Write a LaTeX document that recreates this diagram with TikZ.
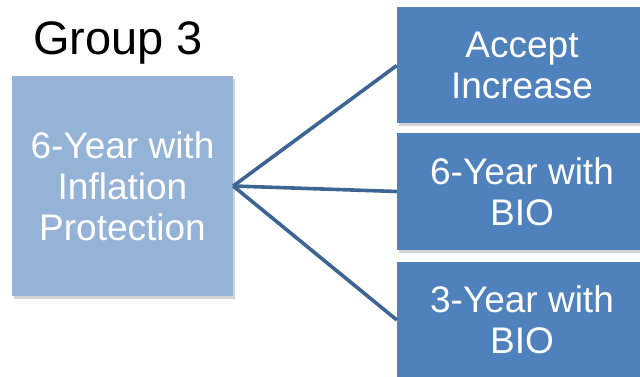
\documentclass[tikz,border=0pt]{standalone}
\usepackage{fontspec}
\setmainfont{Liberation Sans}
\usetikzlibrary{shadows}
\definecolor{paleblue}{HTML}{95B3D7}
\definecolor{boxblue}{HTML}{4F81BD}
\definecolor{linkblue}{HTML}{3D6593}
\begin{document}
\begin{tikzpicture}[x=1pt, y=-1pt,
  box/.style={rectangle, inner sep=0pt, text=white, align=center,
    font=\fontsize{37}{41}\selectfont,
    drop shadow={opacity=0.35, shadow xshift=2pt, shadow yshift=-3pt}},
  choice/.style={box, fill=boxblue, minimum width=250pt, minimum height=116pt},
  link/.style={draw=linkblue, line width=3.6pt}]
\useasboundingbox (0,0) rectangle (640,377);

% Title
\node[anchor=base, font=\fontsize{47}{50}\selectfont] (title) at (118,55) {Group 3};

% Current plan
\node[box, fill=paleblue, minimum width=221pt, minimum height=220pt] (plan) at (122.5,186)
  {6-Year with\\Inflation\\Protection};

% Options
\node[choice] (accept) at (522,65.5) {Accept\\Increase};
\node[choice, minimum height=117pt] (sixyear) at (522,191.5) {6-Year with\\BIO};
\node[choice] (threeyear) at (522,320) {3-Year with\\BIO};

% Connectors
\draw[link] (plan.east) -- (accept.west);
\draw[link] (plan.east) -- (sixyear.west);
\draw[link] (plan.east) -- (threeyear.west);

\end{tikzpicture}
\end{document}
